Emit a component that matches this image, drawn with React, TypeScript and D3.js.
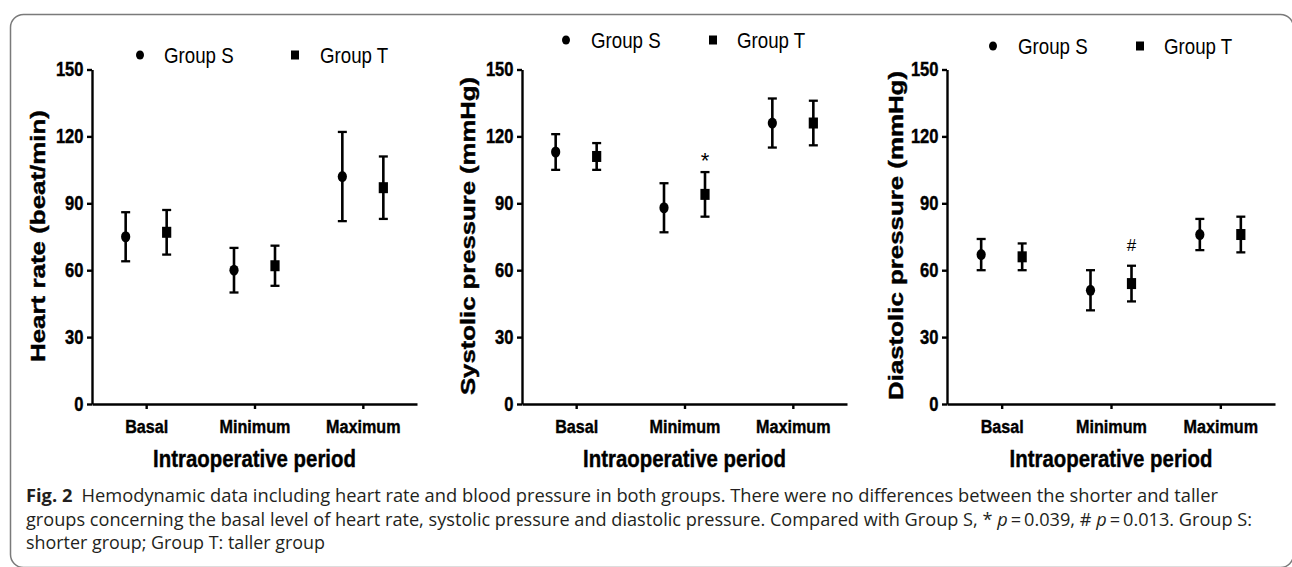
import React, { useEffect, useRef } from "react";
import { select, scaleLinear, scalePoint, axisLeft, axisBottom } from "d3";

const categories = ["Basal", "Minimum", "Maximum"];
const groupNames = ["Group S", "Group T"];
const yTicks = [0, 30, 60, 90, 120, 150];

// heart rate (beat/min)
const hrS = [75, 60, 102];
const hrSsd = [11, 10, 20];
const hrT = [77, 62, 97];
const hrTsd = [10, 9, 14];
// systolic pressure (mmHg)
const sbpS = [113, 88, 126];
const sbpSsd = [8, 11, 11];
const sbpT = [111, 94, 126];
const sbpTsd = [6, 10, 10];
// diastolic pressure (mmHg)
const dbpS = [67, 51, 76];
const dbpSsd = [7, 9, 7];
const dbpT = [66, 54, 76];
const dbpTsd = [6, 8, 8];

const FONT = "'Liberation Sans', Arial, sans-serif";
const SX = 0.85; // the figure is squeezed horizontally

const panels = [
  {
    title: "Heart rate (beat/min)", titleX: 45, titleY: 236, titleLen: 252,
    left: 92, right: 417, legendY: 55, legendX: [48, 72, 203, 228],
    series: [{ mean: hrS, sd: hrSsd }, { mean: hrT, sd: hrTsd }],
    mark: null,
  },
  {
    title: "Systolic pressure (mmHg)", titleX: 475, titleY: 236, titleLen: 318,
    left: 522, right: 847, legendY: 40, legendX: [44, 69, 191, 215],
    series: [{ mean: sbpS, sd: sbpSsd }, { mean: sbpT, sd: sbpTsd }],
    mark: { cat: "Minimum", text: "*", size: 22, dy: -4.5 },
  },
  {
    title: "Diastolic pressure (mmHg)", titleX: 903, titleY: 235.5, titleLen: 329,
    left: 947, right: 1275, legendY: 46, legendX: [46, 71, 193, 217],
    series: [{ mean: dbpS, sd: dbpSsd }, { mean: dbpT, sd: dbpTsd }],
    mark: { cat: "Minimum", text: "#", size: 17, dy: -14.5 },
  },
];

const NText = ({ x, y, size, weight = "normal", anchor = "start", children }: any) => (
  <g transform={`translate(${x},${y}) scale(${SX},1)`}>
    <text fontSize={size} fontWeight={weight} textAnchor={anchor} fontFamily={FONT} fill="#000"
      stroke={weight === "bold" ? "#000" : "none"} strokeWidth={0.4}>
      {children}
    </text>
  </g>
);

const Panel = ({ p }: any) => {
  const gx = useRef(null);
  const gy = useRef(null);
  const y = scaleLinear().domain([0, 150]).range([404, 69.5]);
  const x = scalePoint().domain(categories).range([p.left, p.right]).padding(0.5);
  const off = scalePoint().domain(groupNames).range([-20.5, 20.5]);

  useEffect(() => {
    const ya = select(gy.current);
    ya.call(axisLeft(y).tickValues(yTicks).tickSize(5).tickSizeOuter(0) as any);
    ya.selectAll("path, line").attr("stroke", "#000").attr("stroke-width", 2.4);
    ya.selectAll("text")
      .attr("font-family", FONT)
      .attr("font-size", 19.5)
      .attr("font-weight", "bold")
      .attr("fill", "#000")
      .attr("stroke", "#000")
      .attr("stroke-width", 0.4)
      .attr("x", -10)
      .attr("transform", `scale(${SX},1)`);

    const xa = select(gx.current);
    xa.call(axisBottom(x).tickSize(5).tickSizeOuter(0) as any);
    xa.selectAll("path, line").attr("stroke", "#000").attr("stroke-width", 2.4);
    xa.selectAll("text")
      .attr("font-family", FONT)
      .attr("font-size", 19)
      .attr("font-weight", "bold")
      .attr("fill", "#000")
      .attr("stroke", "#000")
      .attr("stroke-width", 0.4)
      .attr("y", 29)
      .attr("dy", null)
      .attr("transform", `scale(${SX},1)`);
  }, []);

  const cx = (p.left + p.right) / 2;
  const lx = p.legendX.map((d: number) => p.left + d);

  return (
    <g>
      <g ref={gy} transform={`translate(${p.left},0)`} />
      <g ref={gx} transform="translate(0,404)" />
      <text
        transform={`translate(${p.titleX},${p.titleY}) rotate(-90)`}
        textAnchor="middle"
        fontFamily={FONT}
        fontWeight="bold"
        fontSize={19.5}
        stroke="#000"
        strokeWidth={0.4}
        textLength={p.titleLen}
        lengthAdjust="spacingAndGlyphs"
      >
        {p.title}
      </text>
      <NText x={cx} y={467} size={24} weight="bold" anchor="middle">Intraoperative period</NText>

      {/* legend */}
      <ellipse cx={lx[0]} cy={p.legendY} rx={4} ry={4.6} fill="#000" />
      <NText x={lx[1]} y={p.legendY + 8} size={22}>{groupNames[0]}</NText>
      <rect x={lx[2] - 4} y={p.legendY - 4.5} width={8} height={9} fill="#000" />
      <NText x={lx[3]} y={p.legendY + 8} size={22}>{groupNames[1]}</NText>

      {p.series.map((s: any, gi: number) =>
        categories.map((c, i) => {
          const px = (x(c) as number) + (off(groupNames[gi]) as number);
          const top = y(s.mean[i] + s.sd[i]);
          const bot = y(s.mean[i] - s.sd[i]);
          const py = y(s.mean[i]);
          return (
            <g key={`${gi}-${c}`} stroke="#000">
              <line x1={px} x2={px} y1={top} y2={bot} strokeWidth={2.6} />
              <line x1={px - 4.5} x2={px + 4.5} y1={top} y2={top} strokeWidth={2.3} />
              <line x1={px - 4.5} x2={px + 4.5} y1={bot} y2={bot} strokeWidth={2.3} />
              {gi === 0 ? (
                <ellipse cx={px} cy={py} rx={4.6} ry={5.5} fill="#000" stroke="none" />
              ) : (
                <rect x={px - 4.6} y={py - 5.5} width={9.2} height={11} fill="#000" stroke="none" />
              )}
            </g>
          );
        })
      )}

      {p.mark && (() => {
        const i = categories.indexOf(p.mark.cat);
        const s = p.series[1];
        const px = (x(p.mark.cat) as number) + (off(groupNames[1]) as number);
        return (
          <text x={px} y={y(s.mean[i] + s.sd[i]) + p.mark.dy} textAnchor="middle"
            fontFamily={FONT} fontSize={p.mark.size} fill="#000">
            {p.mark.text}
          </text>
        );
      })()}
    </g>
  );
};

const CAP = "'Open Sans', 'Noto Sans', sans-serif";

export default function App() {
  return (
    <svg width={1292} height={567} style={{ position: "absolute", left: 0, top: 0, background: "#fff" }}>
      <rect x={10.5} y={14.5} width={1283} height={553} rx={13} fill="none" stroke="#7a7a7a" strokeWidth={1.5} />
      {panels.map((p, i) => <Panel key={i} p={p} />)}

      <g fontFamily={CAP} fontSize={18} fill="#231f20">
        <text x={26} y={502} textLength={1192} lengthAdjust="spacingAndGlyphs">
          <tspan fontWeight="bold">Fig. 2</tspan>
          <tspan>{"\u2002Hemodynamic data including heart rate and blood pressure in both groups. There were no differences between the shorter and taller"}</tspan>
        </text>
        <text x={26} y={526} textLength={1226} lengthAdjust="spacingAndGlyphs">
          <tspan>{"groups concerning the basal level of heart rate, systolic pressure and diastolic pressure. Compared with Group S, * "}</tspan>
          <tspan fontStyle="italic">p</tspan>
          <tspan>{"\u2009=\u20090.039, # "}</tspan>
          <tspan fontStyle="italic">p</tspan>
          <tspan>{"\u2009=\u20090.013. Group S:"}</tspan>
        </text>
        <text x={26} y={549} textLength={299} lengthAdjust="spacingAndGlyphs">
          shorter group; Group T: taller group
        </text>
      </g>
    </svg>
  );
}
